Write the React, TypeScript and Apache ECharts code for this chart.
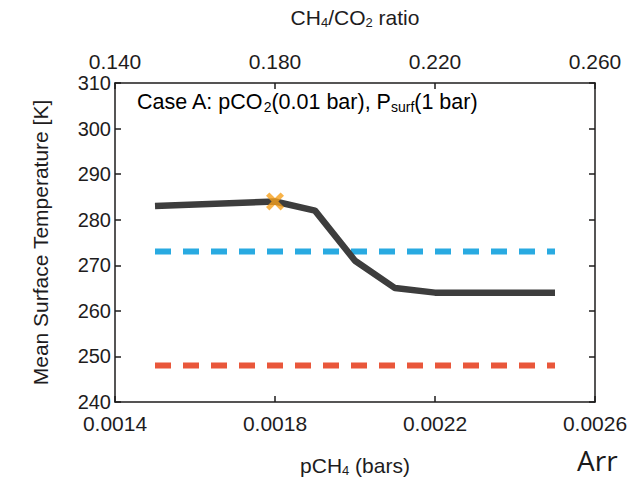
import React, { useEffect, useRef } from "react";
import * as echarts from "echarts";

// pCH4 (bars) values of the model runs
const pCH4 = [0.0015, 0.0018, 0.0019, 0.002, 0.0021, 0.0022, 0.0025];
// Mean surface temperature (K)
const meanTemp = [283, 284, 282, 271, 265, 264, 264];
// highlighted point
const markerPoint = [0.0018, 284];
// reference levels (K)
const blueLevel = 273;
const redLevel = 248;
const levelRange = [0.0015, 0.0025];
// axis ticks
const xTicks = [0.0014, 0.0018, 0.0022, 0.0026];
const topTicks = [0.14, 0.18, 0.22, 0.26];
const yTicks = [240, 250, 260, 270, 280, 290, 300, 310];

const FONT = "'Liberation Sans', Arial, Helvetica, sans-serif";
const TXT = "#1e1c1d";

const subRich = {
  a: { fontSize: 21, fontFamily: FONT, color: TXT, lineHeight: 26 },
  s: { fontSize: 13, fontFamily: FONT, color: TXT, lineHeight: 14, padding: [11, 0, 0, 0] },
};

export default function App() {
  const ref = useRef<HTMLDivElement>(null);
  useEffect(() => {
    if (!ref.current) return;
    const chart = echarts.init(ref.current, null, { renderer: "svg" });
    const xMin = xTicks[0];
    const xMax = xTicks[xTicks.length - 1];
    const xInt = xTicks[1] - xTicks[0];
    const tMin = topTicks[0];
    const tMax = topTicks[topTicks.length - 1];
    const tInt = topTicks[1] - topTicks[0];
    const yMin = yTicks[0];
    const yMax = yTicks[yTicks.length - 1];
    const yInt = yTicks[1] - yTicks[0];
    const axisLine = { show: true, lineStyle: { color: "#1e1c1d", width: 1.5 } };
    const axisTick = { show: true, inside: true, length: 6, lineStyle: { color: "#1e1c1d", width: 1.5 } };
    const labelStyle = { fontSize: 21, fontFamily: FONT, color: TXT };
    chart.setOption({
      animation: false,
      backgroundColor: "#ffffff",
      grid: { left: 115, right: 36, top: 75, bottom: 71, containLabel: false },
      xAxis: [
        {
          type: "value",
          position: "bottom",
          min: xMin,
          max: xMax,
          interval: xInt,
          axisLine,
          axisTick,
          splitLine: { show: false },
          axisLabel: { ...labelStyle, margin: 11, formatter: (v: number) => v.toFixed(4) },
          name: "{a|pCH}{s|4}{a| (bars)}",
          nameLocation: "middle",
          nameGap: 50,
          nameTextStyle: { rich: subRich },
        },
        {
          type: "value",
          position: "top",
          min: tMin,
          max: tMax,
          interval: tInt,
          axisLine,
          axisTick,
          splitLine: { show: false },
          axisLabel: { ...labelStyle, margin: 11, formatter: (v: number) => v.toFixed(3) },
          name: "{a|CH}{s|4}{a|/CO}{s|2}{a| ratio}",
          nameLocation: "middle",
          nameGap: 53,
          nameTextStyle: { rich: subRich },
        },
      ],
      yAxis: [
        {
          type: "value",
          position: "left",
          min: yMin,
          max: yMax,
          interval: yInt,
          axisLine,
          axisTick,
          splitLine: { show: false },
          axisLabel: { ...labelStyle, fontSize: 20, margin: 4 },
          name: "Mean Surface Temperature [K]",
          nameLocation: "middle",
          nameGap: 64,
          nameTextStyle: { fontSize: 21, fontFamily: FONT, color: TXT },
        },
        {
          type: "value",
          position: "right",
          min: yMin,
          max: yMax,
          interval: yInt,
          axisLine,
          axisTick,
          splitLine: { show: false },
          axisLabel: { show: false },
        },
      ],
      graphic: [
        {
          type: "text",
          left: 137,
          top: 89,
          style: {
            text: "{a|Case A: pCO}{s|2}{a|(0.01 bar), P}{s|surf}{a|(1 bar)}",
            rich: {
              a: { fontSize: 21.5, fontFamily: FONT, color: TXT, lineHeight: 26 },
              s: { fontSize: 14, fontFamily: FONT, color: TXT, lineHeight: 15, padding: [11, 0, 0, 0] },
            },
          },
        },
        {
          type: "text",
          left: 577,
          top: 446,
          style: {
            text: "Arr",
            fontSize: 28,
            fontFamily: "'Open Sans', 'Noto Sans', sans-serif",
            fill: "#1a1a1a",
          },
        },
      ],
      series: [
        {
          type: "line",
          xAxisIndex: 0,
          yAxisIndex: 0,
          data: [levelRange[0], levelRange[1]].map((x) => [x, redLevel]),
          symbol: "none",
          lineStyle: { color: "#e9573b", width: 6, type: [16, 12], cap: "butt" },
          z: 2,
        },
        {
          type: "line",
          xAxisIndex: 0,
          yAxisIndex: 0,
          data: [levelRange[0], levelRange[1]].map((x) => [x, blueLevel]),
          symbol: "none",
          lineStyle: { color: "#29aae1", width: 6, type: [16, 12], cap: "butt" },
          z: 2,
        },
        {
          type: "line",
          xAxisIndex: 0,
          yAxisIndex: 0,
          data: pCH4.map((x, i) => [x, meanTemp[i]]),
          symbol: "none",
          lineStyle: { color: "#3d3d3d", width: 6.5, cap: "butt", join: "round" },
          z: 3,
        },
        {
          type: "scatter",
          xAxisIndex: 0,
          yAxisIndex: 0,
          data: [markerPoint],
          symbol:
            "path://M3,0 L8,5 L13,0 L16,3 L11,8 L16,13 L13,16 L8,11 L3,16 L0,13 L5,8 L0,3 Z",
          symbolSize: 18,
          itemStyle: { color: "#f6a01c" },
          z: 4,
        },
      ],
    });
    return () => chart.dispose();
  }, []);
  return (
    <div
      ref={ref}
      style={{ position: "absolute", left: 0, top: 0, width: 631, height: 482, background: "#fff" }}
    />
  );
}
